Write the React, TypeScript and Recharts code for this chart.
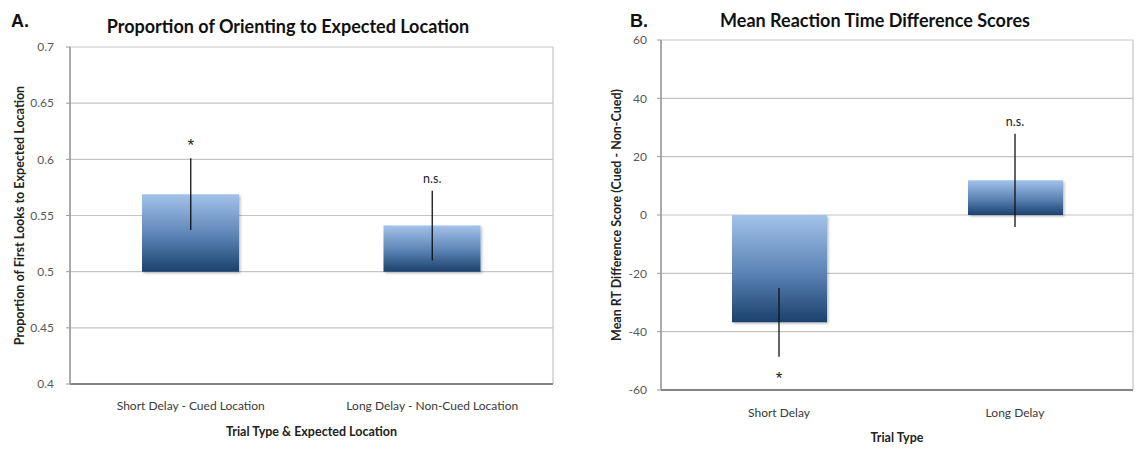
import React from "react";
import {
  ComposedChart,
  Bar,
  Line,
  XAxis,
  YAxis,
  CartesianGrid,
  ErrorBar,
} from "recharts";

// Panel A: proportion of first looks to the expected location
const categoriesA = ["Short Delay - Cued Location", "Long Delay - Non-Cued Location"];
const proportionA = [0.569, 0.541];
const errorA = [0.032, 0.031];
const sigA = ["*", "n.s."];
const baseA = 0.5;
const ticksA = [0.4, 0.45, 0.5, 0.55, 0.6, 0.65, 0.7];

// Panel B: mean RT difference scores (cued - non-cued)
const categoriesB = ["Short Delay", "Long Delay"];
const rtDiffB = [-36.8, 11.9];
const errorB = [11.8, 16.0];
const sigB = ["*", "n.s."];
const ticksB = [-60, -40, -20, 0, 20, 40, 60];

const dataA = categoriesA.map((name, i) => ({
  name,
  value: proportionA[i],
  err: errorA[i],
  sig: sigA[i],
}));

const dataB = categoriesB.map((name, i) => ({
  name,
  value: rtDiffB[i],
  err: errorB[i],
  sig: sigB[i],
}));

const FONT = "Lato, 'Open Sans', sans-serif";
const STAR_FONT = "'Liberation Sans', Arial, sans-serif";
const GRID = "#c4c4c4";
const TICK_COLOR = "#595959";
const LABEL_COLOR = "#3a3a3a";

// significance marker placed past the end of the error bar
const sigEnd = (d: { value: number; err: number }, base: number) =>
  d.value >= base ? d.value + d.err : d.value - d.err;

const renderSig =
  (base: number) =>
  (props: any) => {
    const { cx, cy, payload, index } = props;
    if (cx == null || cy == null) return <g key={`s-${index}`} />;
    const above = payload.value >= base;
    const star = payload.sig === "*";
    const dy = above ? (star ? -7 : -8) : 27;
    return (
      <text
        key={`s-${index}`}
        x={cx}
        y={cy + dy}
        textAnchor="middle"
        fontSize={star ? 17 : 12.5}
        fontFamily={star ? STAR_FONT : FONT}
        fill="#222"
      >
        {payload.sig}
      </text>
    );
  };

const edgeLines = ({ offset }: any) => [offset.left, offset.left + offset.width];

const axisTitleStyle = { fontSize: 12.5, fontWeight: 700, fill: "#222", fontFamily: FONT };

function BarDefs({ id }: { id: string }) {
  return (
    <defs>
      <linearGradient id={id} x1="0" y1="0" x2="0" y2="1">
        <stop offset="0%" stopColor="#a2c2ea" />
        <stop offset="55%" stopColor="#5a82b3" />
        <stop offset="100%" stopColor="#1b416d" />
      </linearGradient>
      <filter id={`${id}-shadow`} x="-10%" y="-10%" width="130%" height="130%">
        <feDropShadow dx="1.5" dy="1.5" stdDeviation="1" floodColor="#000" floodOpacity="0.25" />
      </filter>
    </defs>
  );
}

function PanelA() {
  return (
    <ComposedChart
      width={570}
      height={455}
      data={dataA}
      margin={{ top: 47, right: 17, bottom: 11, left: 0 }}
    >
      <BarDefs id="gradA" />
      <CartesianGrid
        stroke={GRID}
        strokeWidth={1.2}
        vertical
        verticalCoordinatesGenerator={edgeLines}
      />
      <XAxis
        dataKey="name"
        height={60}
        tickLine={false}
        tickSize={0}
        tickMargin={17}
        axisLine={{ stroke: "#858585", strokeWidth: 2 }}
        tick={{ fontSize: 12, fill: LABEL_COLOR, fontFamily: FONT }}
        label={{
          value: "Trial Type & Expected Location",
          position: "insideBottom",
          offset: 8,
          style: axisTitleStyle,
        }}
      />
      <YAxis
        width={70}
        domain={[0.4, 0.7]}
        ticks={ticksA}
        interval={0}
        tickSize={4}
        tickMargin={12}
        tickLine={{ stroke: "#9a9a9a" }}
        axisLine={{ stroke: "#9a9a9a", strokeWidth: 1.5 }}
        tick={{ fontSize: 12, fill: TICK_COLOR, fontFamily: FONT }}
        label={{
          value: "Proportion of First Looks to Expected Location",
          angle: -90,
          position: "insideLeft",
          offset: 20,
          style: { ...axisTitleStyle, textAnchor: "middle" },
        }}
      />
      <Bar
        dataKey={(d: any) => [baseA, d.value]}
        barSize={97}
        fill="url(#gradA)"
        filter="url(#gradA-shadow)"
        isAnimationActive={false}
      />
      <Line
        dataKey="value"
        stroke="none"
        dot={false}
        activeDot={false}
        isAnimationActive={false}
      >
        <ErrorBar dataKey="err" width={0} stroke="#111" strokeWidth={1.3} direction="y" />
      </Line>
      <Line
        dataKey={(d: any) => sigEnd(d, baseA)}
        stroke="none"
        dot={renderSig(baseA)}
        activeDot={false}
        isAnimationActive={false}
      />
    </ComposedChart>
  );
}

function PanelB() {
  return (
    <ComposedChart
      width={566}
      height={455}
      data={dataB}
      margin={{ top: 40, right: 3, bottom: 10, left: 0 }}
    >
      <BarDefs id="gradB" />
      <CartesianGrid
        stroke={GRID}
        strokeWidth={1.2}
        vertical
        verticalCoordinatesGenerator={edgeLines}
      />
      <XAxis
        dataKey="name"
        height={55}
        tickLine={false}
        tickSize={0}
        tickMargin={18}
        axisLine={{ stroke: "#858585", strokeWidth: 2 }}
        tick={{ fontSize: 12, fill: LABEL_COLOR, fontFamily: FONT }}
        label={{
          value: "Trial Type",
          position: "insideBottom",
          offset: 3,
          style: axisTitleStyle,
        }}
      />
      <YAxis
        width={91}
        domain={[-60, 60]}
        ticks={ticksB}
        interval={0}
        tickSize={4}
        tickMargin={10}
        tickLine={{ stroke: "#9a9a9a" }}
        axisLine={{ stroke: "#9a9a9a", strokeWidth: 1.5 }}
        tick={{ fontSize: 12, fill: TICK_COLOR, fontFamily: FONT }}
        label={{
          value: "Mean RT Difference Score (Cued - Non-Cued)",
          angle: -90,
          position: "insideLeft",
          offset: 47,
          style: { ...axisTitleStyle, textAnchor: "middle" },
        }}
      />
      <Bar
        dataKey="value"
        barSize={95}
        fill="url(#gradB)"
        filter="url(#gradB-shadow)"
        isAnimationActive={false}
      />
      <Line
        dataKey="value"
        stroke="none"
        dot={false}
        activeDot={false}
        isAnimationActive={false}
      >
        <ErrorBar dataKey="err" width={0} stroke="#111" strokeWidth={1.3} direction="y" />
      </Line>
      <Line
        dataKey={(d: any) => sigEnd(d, 0)}
        stroke="none"
        dot={renderSig(0)}
        activeDot={false}
        isAnimationActive={false}
      />
    </ComposedChart>
  );
}

export default function App() {
  return (
    <div
      style={{
        position: "absolute",
        left: 0,
        top: 0,
        width: 1136,
        height: 455,
        background: "#fff",
        fontFamily: FONT,
      }}
    >
      <div style={{ position: "absolute", left: 0, top: 0 }}>
        <PanelA />
      </div>
      <div style={{ position: "absolute", left: 570, top: 0 }}>
        <PanelB />
      </div>
      <svg
        width={1136}
        height={455}
        style={{ position: "absolute", left: 0, top: 0, pointerEvents: "none" }}
      >
        <text x={11} y={27} fontSize={18} fontWeight={700} fontFamily={STAR_FONT} fill="#111">
          A.
        </text>
        <text x={288} y={33} textAnchor="middle" fontSize={18} fontWeight={700} fontFamily={FONT} fill="#111">
          Proportion of Orienting to Expected Location
        </text>
        <text x={630} y={27} fontSize={18} fontWeight={700} fontFamily={STAR_FONT} fill="#111">
          B.
        </text>
        <text x={875} y={27} textAnchor="middle" fontSize={18} fontWeight={700} fontFamily={FONT} fill="#111">
          Mean Reaction Time Difference Scores
        </text>
      </svg>
    </div>
  );
}
